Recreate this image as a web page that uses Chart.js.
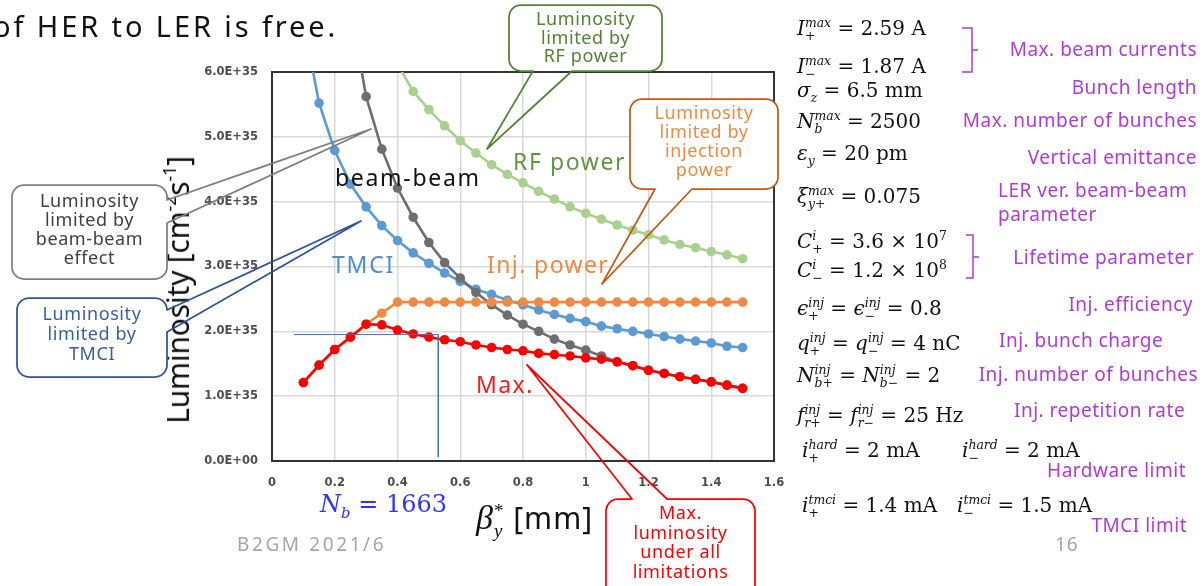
<!DOCTYPE html>
<html><head><meta charset="utf-8">
<script src="https://cdn.jsdelivr.net/npm/chart.js@4.4.0/dist/chart.umd.min.js"></script>
<style>
html,body{margin:0;padding:0;background:#fff;}
#wrap{position:relative;width:1204px;height:586px;overflow:hidden;background:#fff;font-family:"Noto Sans",sans-serif;}
#cv{position:absolute;left:0;top:0;}
svg{position:absolute;left:0;top:0;}
.t{position:absolute;white-space:nowrap;line-height:1;}
.m{position:absolute;white-space:nowrap;line-height:1;font-family:"DejaVu Serif",serif;font-size:20px;color:#111;}
.m i{font-style:italic;}
.sc{display:inline-grid;font-size:0.62em;line-height:1;vertical-align:baseline;}
.sc>span{grid-area:1/1;}
.sp{transform:translateY(-0.65em);font-style:italic;}
.sb{transform:translateY(0.4em);}
.p{position:absolute;white-space:nowrap;line-height:1;font-size:19px;color:#b03ad8;letter-spacing:0.5px;}
.co{position:absolute;text-align:center;font-size:18px;letter-spacing:0.6px;white-space:nowrap;}
sup.ax{font-size:0.6em;line-height:0;vertical-align:0.75em;}
</style></head>
<body>
<div id="wrap">
<canvas id="cv" width="1204" height="586"></canvas>

<!-- slide text -->
<div class="t" style="left:-7px;top:11px;font-size:29px;letter-spacing:2.9px;color:#111;">of HER to LER is free.</div>

<!-- axis titles -->
<div class="t" style="left:178px;top:290px;transform:translate(-50%,-50%) rotate(-90deg);font-size:30px;color:#111;letter-spacing:-0.2px;">Luminosity [cm<sup class="ax">-2</sup>s<sup class="ax">-1</sup>]</div>
<div class="t" style="left:476px;top:501px;font-size:30px;color:#111;letter-spacing:1px;"><span style="font-family:'Liberation Serif',serif;font-style:italic;font-size:34px;">β</span><span class="sc" style="font-family:'Liberation Serif',serif;font-size:19px;"><span class="sp" style="font-style:normal">*</span><span class="sb" style="font-style:italic">y</span></span> [mm]</div>
<div class="m" style="left:320px;top:492px;font-size:24px;color:#3333ff;"><i>N</i><span class="sc"><span class="sb" style="font-style:italic">b</span></span> = 1663</div>

<!-- curve labels -->
<div class="t" style="left:335px;top:166px;font-size:23px;color:#111;letter-spacing:1.7px;">beam-beam</div>
<div class="t" style="left:513px;top:150px;font-size:23px;color:#64963f;letter-spacing:1.6px;">RF power</div>
<div class="t" style="left:332px;top:253px;font-size:23px;color:#4f8fcc;letter-spacing:1.8px;">TMCI</div>
<div class="t" style="left:487px;top:253px;font-size:23px;color:#f08a42;letter-spacing:1.4px;">Inj. power</div>
<div class="t" style="left:476px;top:373px;font-size:23px;color:#ff1a1a;letter-spacing:1.4px;">Max.</div>

<!-- footer -->
<div class="t" style="left:237px;top:535px;font-size:19px;color:#a6a6a6;letter-spacing:2.6px;">B2GM 2021/6</div>
<div class="t" style="left:1055px;top:535px;font-size:19px;color:#a6a6a6;letter-spacing:1px;">16</div>

<!-- right-hand parameters -->
<div class="m" style="left:797px;top:18px;"><i>I</i><span class="sc"><span class="sp">max</span><span class="sb">+</span></span> = 2.59 A</div>
<div class="m" style="left:797px;top:56px;"><i>I</i><span class="sc"><span class="sp">max</span><span class="sb">−</span></span> = 1.87 A</div>
<div class="m" style="left:797px;top:80px;"><i>σ</i><span class="sc"><span class="sb" style="font-style:italic">z</span></span> = 6.5 mm</div>
<div class="m" style="left:797px;top:111px;"><i>N</i><span class="sc"><span class="sp">max</span><span class="sb" style="font-style:italic">b</span></span> = 2500</div>
<div class="m" style="left:797px;top:143px;"><i>ε</i><span class="sc"><span class="sb" style="font-style:italic">y</span></span> = 20 pm</div>
<div class="m" style="left:797px;top:186px;"><i>ξ</i><span class="sc"><span class="sp">max</span><span class="sb"><i>y</i>+</span></span> = 0.075</div>
<div class="m" style="left:797px;top:231px;"><i>C</i><span class="sc"><span class="sp">i</span><span class="sb">+</span></span> = 3.6 × 10<span class="sc"><span class="sp" style="font-style:normal">7</span></span></div>
<div class="m" style="left:797px;top:260px;"><i>C</i><span class="sc"><span class="sp">i</span><span class="sb">−</span></span> = 1.2 × 10<span class="sc"><span class="sp" style="font-style:normal">8</span></span></div>
<div class="m" style="left:797px;top:298px;"><i>ϵ</i><span class="sc"><span class="sp">inj</span><span class="sb">+</span></span> = <i>ϵ</i><span class="sc"><span class="sp">inj</span><span class="sb">−</span></span> = 0.8</div>
<div class="m" style="left:797px;top:333px;"><i>q</i><span class="sc"><span class="sp">inj</span><span class="sb">+</span></span> = <i>q</i><span class="sc"><span class="sp">inj</span><span class="sb">−</span></span> = 4 nC</div>
<div class="m" style="left:797px;top:365px;"><i>N</i><span class="sc"><span class="sp">inj</span><span class="sb"><i>b</i>+</span></span> = <i>N</i><span class="sc"><span class="sp">inj</span><span class="sb"><i>b</i>−</span></span> = 2</div>
<div class="m" style="left:797px;top:405px;"><i>f</i><span class="sc"><span class="sp">inj</span><span class="sb"><i>r</i>+</span></span> = <i>f</i><span class="sc"><span class="sp">inj</span><span class="sb"><i>r</i>−</span></span> = 25 Hz</div>
<div class="m" style="left:802px;top:440px;"><i>i</i><span class="sc"><span class="sp">hard</span><span class="sb">+</span></span> = 2 mA</div>
<div class="m" style="left:962px;top:440px;"><i>i</i><span class="sc"><span class="sp">hard</span><span class="sb">−</span></span> = 2 mA</div>
<div class="m" style="left:802px;top:495px;"><i>i</i><span class="sc"><span class="sp">tmci</span><span class="sb">+</span></span> = 1.4 mA</div>
<div class="m" style="left:957px;top:495px;"><i>i</i><span class="sc"><span class="sp">tmci</span><span class="sb">−</span></span> = 1.5 mA</div>

<div class="p" style="right:7px;top:40px;">Max. beam currents</div>
<div class="p" style="right:7px;top:78px;">Bunch length</div>
<div class="p" style="right:7px;top:111px;">Max. number of bunches</div>
<div class="p" style="right:7px;top:148px;">Vertical emittance</div>
<div class="p" style="left:998px;top:181px;">LER ver. beam-beam</div>
<div class="p" style="left:998px;top:205px;">parameter</div>
<div class="p" style="right:10px;top:248px;">Lifetime parameter</div>
<div class="p" style="right:11px;top:295px;">Inj. efficiency</div>
<div class="p" style="left:999px;top:331px;">Inj. bunch charge</div>
<div class="p" style="right:6px;top:365px;">Inj. number of bunches</div>
<div class="p" style="left:1014px;top:401px;">Inj. repetition rate</div>
<div class="p" style="right:18px;top:461px;">Hardware limit</div>
<div class="p" style="right:17px;top:516px;">TMCI limit</div>

<svg id="ov" width="1204" height="586"></svg>

<div class="co" style="left:12px;width:155px;top:191px;line-height:19px;color:#404040;">Luminosity<br>limited by<br>beam-beam<br>effect</div>
<div class="co" style="left:17px;width:150px;top:303px;line-height:20px;color:#3a5fa0;">Luminosity<br>limited by<br>TMCI</div>
<div class="co" style="left:509px;width:153px;top:9px;line-height:18.5px;color:#548235;">Luminosity<br>limited by<br>RF power</div>
<div class="co" style="left:630px;width:148px;top:103px;line-height:19px;color:#f08a42;">Luminosity<br>limited by<br>injection<br>power</div>
<div class="co" style="left:606px;width:149px;top:503px;line-height:19.5px;color:#ff0000;">Max.<br>luminosity<br>under all<br>limitations</div>
</div>

<script>
// ---- data (luminosity in units of 1E+35 cm^-2 s^-1) ----
const betaY = [0.1,0.15,0.2,0.25,0.3,0.35,0.4,0.45,0.5,0.55,0.6,0.65,0.7,0.75,0.8,0.85,0.9,0.95,1.0,1.05,1.1,1.15,1.2,1.25,1.3,1.35,1.4,1.45,1.5];
const lumMax = [1.21,1.48,1.72,1.91,2.11,2.10,2.02,1.96,1.91,1.87,1.84,1.79,1.75,1.72,1.70,1.66,1.64,1.62,1.59,1.57,1.53,1.47,1.40,1.35,1.30,1.26,1.22,1.17,1.12];
const lumInjPower = [1.21,1.48,1.72,1.91,2.11,2.28,2.45,2.45,2.45,2.45,2.45,2.45,2.45,2.45,2.45,2.45,2.45,2.45,2.45,2.45,2.45,2.45,2.45,2.45,2.45,2.45,2.45,2.45,2.45];
const lumBeamBeam = [null,null,null,7.0,5.62,4.81,4.21,3.76,3.37,3.06,2.82,2.60,2.41,2.25,2.11,2.00,1.88,1.79,1.71,1.62,1.53,1.47,1.40,1.35,1.30,1.26,1.22,1.17,1.12];
const lumTMCI = [6.8,5.52,4.79,4.27,3.92,3.63,3.40,3.21,3.05,2.90,2.77,2.65,2.57,2.48,2.41,2.33,2.26,2.20,2.15,2.08,2.04,2.00,1.96,1.92,1.88,1.85,1.82,1.77,1.75];
const lumRFPower = [null,null,null,null,null,null,6.12,5.70,5.42,5.17,4.94,4.75,4.57,4.42,4.29,4.16,4.04,3.92,3.82,3.73,3.64,3.56,3.49,3.41,3.34,3.29,3.23,3.18,3.12];
const nbMarkerX = [0.07,0.53,0.53];
const nbMarkerY = [1.95,1.95,0.06];
const xTickLabels = ['0','0.2','0.4','0.6','0.8','1','1.2','1.4','1.6'];
const yTickLabels = ['0.0E+00','1.0E+35','2.0E+35','3.0E+35','4.0E+35','5.0E+35','6.0E+35'];

const pts = (xs, ys) => xs.map((x, i) => ({x: x, y: ys[i]}));
function series(label, ys, line, dot) {
  return {label: label, data: pts(betaY, ys), borderColor: line, backgroundColor: dot,
    pointBackgroundColor: dot, pointBorderColor: dot, pointBorderWidth: 0,
    pointRadius: 4.8, borderWidth: 2.6, tension: 0, spanGaps: false};
}

const framePlugin = {
  id: 'frame',
  beforeDatasetsDraw(chart) {
    const c = chart.ctx, a = chart.chartArea;
    c.save(); c.strokeStyle = '#333'; c.lineWidth = 2;
    c.strokeRect(a.left, a.top, a.right - a.left, a.bottom - a.top);
    c.restore();
  }
};

const tickFont = {family: 'DejaVu Sans', size: 11.5, weight: 'bold'};
new Chart(document.getElementById('cv'), {
  type: 'line',
  data: {datasets: [
    {label: 'Nb', data: pts(nbMarkerX, nbMarkerY), borderColor: '#4472c4', borderWidth: 1, pointRadius: 0, tension: 0},
    series('Max.', lumMax, '#ff0000', '#ff0000'),
    series('Inj. power', lumInjPower, '#ef8a3f', '#f08a42'),
    series('beam-beam', lumBeamBeam, '#6e6e6e', '#6e6e6e'),
    series('TMCI', lumTMCI, '#5b9bd5', '#5b9bd5'),
    series('RF power', lumRFPower, '#a9d18e', '#a9d18e')
  ]},
  options: {
    responsive: false, animation: false,
    layout: {padding: {left: 0, top: 72, right: 430, bottom: 0}},
    plugins: {legend: {display: false}, tooltip: {enabled: false}},
    scales: {
      x: {type: 'linear', min: 0, max: 1.6,
        afterFit(s) { s.height = 125; },
        ticks: {stepSize: 0.2, padding: 15, color: '#4d4d4d', font: tickFont, maxRotation: 0, autoSkip: false,
          callback: (v, i) => xTickLabels[i]},
        grid: {color: '#d9d9d9', lineWidth: 1.5, drawTicks: false},
        border: {color: '#262626', width: 2}},
      y: {min: 0, max: 6,
        afterFit(s) { s.width = 272; },
        ticks: {stepSize: 1, padding: 14, color: '#4d4d4d', font: tickFont,
          callback: (v, i) => yTickLabels[i]},
        grid: {color: '#d9d9d9', lineWidth: 1.5, drawTicks: false},
        border: {color: '#262626', width: 2}}
    }
  },
  plugins: [framePlugin]
});

// ---- callout shapes and brackets ----
function outline(x, y, w, h, r, side, a, b, tx, ty) {
  let d = `M${x + r},${y}`;
  if (side === 'top') d += ` L${a},${y} L${tx},${ty} L${b},${y}`;
  d += ` L${x + w - r},${y} A${r},${r} 0 0 1 ${x + w},${y + r}`;
  if (side === 'right') d += ` L${x + w},${a} L${tx},${ty} L${x + w},${b}`;
  d += ` L${x + w},${y + h - r} A${r},${r} 0 0 1 ${x + w - r},${y + h}`;
  if (side === 'bottom') d += ` L${b},${y + h} L${tx},${ty} L${a},${y + h}`;
  d += ` L${x + r},${y + h} A${r},${r} 0 0 1 ${x},${y + h - r} L${x},${y + r} A${r},${r} 0 0 1 ${x + r},${y} Z`;
  return d;
}
const callouts = [
  [12, 185, 155, 94, 'right', 200, 223, 371, 129, '#7f7f7f'],
  [17, 298, 150, 79, 'right', 310, 332, 361, 221, '#2f5597'],
  [509, 5, 153, 66, 'bottom', 533, 572, 487, 149, '#548235'],
  [630, 99, 148, 90, 'bottom', 655, 692, 602, 284, '#c55a11'],
  [606, 499, 149, 100, 'top', 632, 667, 527, 365, '#ff0000']
];
let svg = '';
for (const c of callouts) {
  const [x, y, w, h, side, a, b, tx, ty, col] = c;
  svg += `<rect x="${x}" y="${y}" width="${w}" height="${h}" rx="12" ry="12" fill="#fff" stroke="none"/>`;
  svg += `<path d="${outline(x, y, w, h, 12, side, a, b, tx, ty)}" fill="none" stroke="${col}" stroke-width="1.75" stroke-linejoin="round"/>`;
}
svg += `<path d="M962,28 H972 V72 H962 M972,50 H978" fill="none" stroke="#b03ad8" stroke-width="1.5"/>`;
svg += `<path d="M966,235 H973 V278 H966 M973,257 H979" fill="none" stroke="#b03ad8" stroke-width="1.5"/>`;
document.getElementById('ov').innerHTML = svg;
</script>
</body></html>
